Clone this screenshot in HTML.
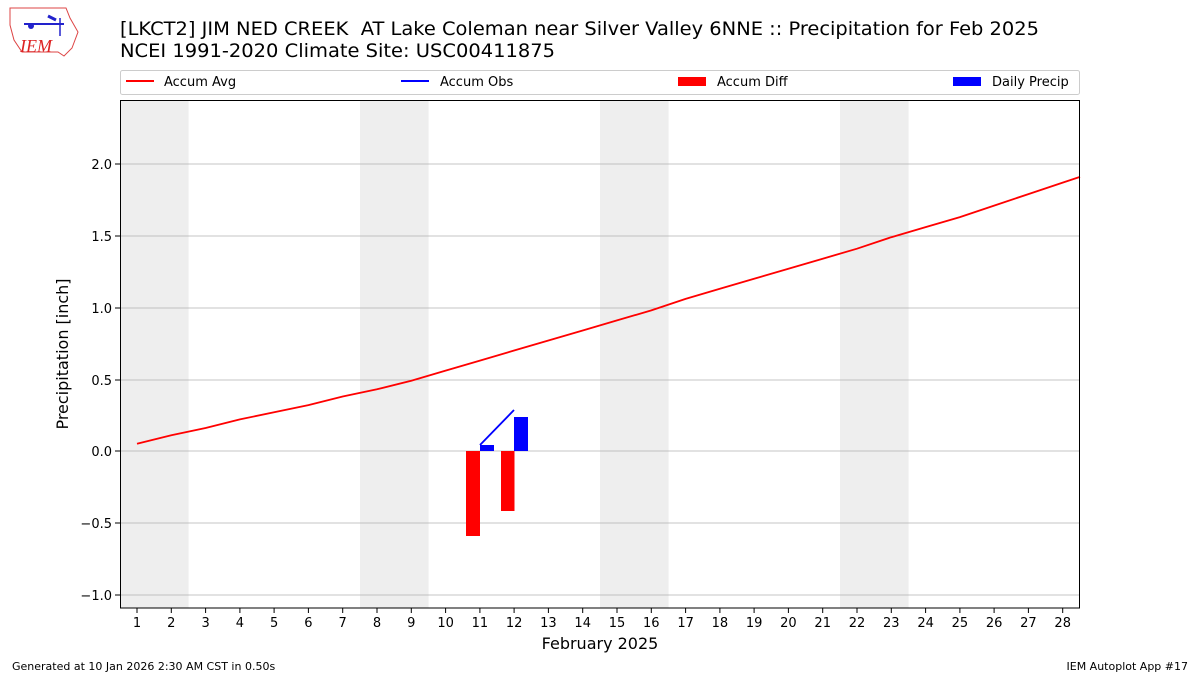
<!DOCTYPE html>
<html><head><meta charset="utf-8"><style>
body{margin:0;background:#fff;}
svg{display:block;font-family:"DejaVu Sans","Liberation Sans",sans-serif;}
</style></head><body>
<svg width="1200" height="675" viewBox="0 0 1200 675" xmlns="http://www.w3.org/2000/svg">
<rect width="1200" height="675" fill="#fff"/>
<!-- logo -->
<path d="M10,8 L66,8 L70,18 L78,32 L72,48 L64,56 L58,52 L22,52 L14,40 L10,25 Z" fill="none" stroke="#d44" stroke-width="1"/>
<line x1="24" y1="24" x2="64" y2="24" stroke="#22c" stroke-width="2"/>
<line x1="60" y1="18" x2="60" y2="36" stroke="#22c" stroke-width="1.5"/>
<circle cx="31" cy="26" r="3" fill="#22c"/>
<path d="M48,16 L56,20" stroke="#22c" stroke-width="3"/>
<text x="20" y="52" font-family="Liberation Serif,serif" font-style="italic" font-size="18" fill="#d22">IEM</text>
<!-- title -->
<text x="120" y="35" font-size="19" fill="#000" xml:space="preserve" textLength="919" lengthAdjust="spacingAndGlyphs">[LKCT2] JIM NED CREEK  AT Lake Coleman near Silver Valley 6NNE :: Precipitation for Feb 2025</text>
<text x="120" y="57" font-size="19" fill="#000" textLength="435" lengthAdjust="spacingAndGlyphs">NCEI 1991-2020 Climate Site: USC00411875</text>
<!-- legend -->
<rect x="120.5" y="70.5" width="959" height="24" fill="#fff" stroke="#ccc" rx="2"/>
<line x1="126" y1="81" x2="154" y2="81" stroke="red" stroke-width="2"/>
<text x="164" y="86" font-size="13">Accum Avg</text>
<line x1="401" y1="81" x2="429" y2="81" stroke="blue" stroke-width="2"/>
<text x="440" y="86" font-size="13">Accum Obs</text>
<rect x="678" y="77" width="28" height="9" fill="red"/>
<text x="717" y="86" font-size="13">Accum Diff</text>
<rect x="953" y="77" width="28" height="9" fill="blue"/>
<text x="992" y="86" font-size="13">Daily Precip</text>
<!-- shading -->
<g fill="#eee">
<rect x="120" y="100" width="68.6" height="508"/>
<rect x="360" y="100" width="68.6" height="508"/>
<rect x="600" y="100" width="68.6" height="508"/>
<rect x="840" y="100" width="68.6" height="508"/>
</g>
<!-- grid -->
<g stroke="#b0b0b0" stroke-width="0.8">
<line x1="120" x2="1080" y1="164" y2="164"/>
<line x1="120" x2="1080" y1="236" y2="236"/>
<line x1="120" x2="1080" y1="308" y2="308"/>
<line x1="120" x2="1080" y1="380" y2="380"/>
<line x1="120" x2="1080" y1="451" y2="451"/>
<line x1="120" x2="1080" y1="523" y2="523"/>
<line x1="120" x2="1080" y1="595" y2="595"/>
</g>
<!-- bars -->
<rect x="466" y="451" width="14" height="85" fill="red"/>
<rect x="501" y="451" width="13.5" height="60" fill="red"/>
<rect x="480" y="445" width="14" height="6" fill="blue"/>
<rect x="514" y="417" width="14" height="34" fill="blue"/>
<line x1="480" y1="445" x2="514" y2="410" stroke="blue" stroke-width="1.8"/>
<!-- avg line -->
<polyline fill="none" stroke="red" stroke-width="1.8" points="137,443.8 171.3,435.2 205.6,428 239.9,419.4 274.1,412.3 308.4,405.1 342.7,396.5 377,389.3 411.3,380.7 445.6,370.6 479.9,360.6 514.1,350.5 548.4,340.5 582.7,330.5 617,320.4 651.3,310.4 685.6,298.9 719.9,288.8 754.1,278.8 788.4,268.8 822.7,258.7 857,248.7 891.3,237.2 925.6,227.1 959.9,217.1 994.1,205.6 1028.4,194.1 1062.7,182.6 1080,176.9"/>
<!-- axes -->
<rect x="120.5" y="100.5" width="959" height="507.5" fill="none" stroke="#000" stroke-width="1"/>
<g stroke="#000" stroke-width="1">
<line x1="115" x2="120" y1="164" y2="164"/><line x1="115" x2="120" y1="236" y2="236"/>
<line x1="115" x2="120" y1="308" y2="308"/><line x1="115" x2="120" y1="380" y2="380"/>
<line x1="115" x2="120" y1="451" y2="451"/><line x1="115" x2="120" y1="523" y2="523"/>
<line x1="115" x2="120" y1="595" y2="595"/>
</g>
<g font-size="13" text-anchor="end">
<text x="112" y="169">2.0</text><text x="112" y="241">1.5</text><text x="112" y="313">1.0</text>
<text x="112" y="385">0.5</text><text x="112" y="456">0.0</text><text x="112" y="528">−0.5</text>
<text x="112" y="600">−1.0</text>
</g>
<g font-size="13" text-anchor="middle">
<text x="137" y="627">1</text><text x="171.3" y="627">2</text><text x="205.6" y="627">3</text><text x="239.9" y="627">4</text><text x="274.1" y="627">5</text><text x="308.4" y="627">6</text><text x="342.7" y="627">7</text><text x="377" y="627">8</text><text x="411.3" y="627">9</text><text x="445.6" y="627">10</text><text x="479.9" y="627">11</text><text x="514.1" y="627">12</text><text x="548.4" y="627">13</text><text x="582.7" y="627">14</text><text x="617" y="627">15</text><text x="651.3" y="627">16</text><text x="685.6" y="627">17</text><text x="719.9" y="627">18</text><text x="754.1" y="627">19</text><text x="788.4" y="627">20</text><text x="822.7" y="627">21</text><text x="857" y="627">22</text><text x="891.3" y="627">23</text><text x="925.6" y="627">24</text><text x="959.9" y="627">25</text><text x="994.1" y="627">26</text><text x="1028.4" y="627">27</text><text x="1062.7" y="627">28</text>
</g>
<g stroke="#000" stroke-width="1">
<path d="M137,608v5M171.3,608v5M205.6,608v5M239.9,608v5M274.1,608v5M308.4,608v5M342.7,608v5M377,608v5M411.3,608v5M445.6,608v5M479.9,608v5M514.1,608v5M548.4,608v5M582.7,608v5M617,608v5M651.3,608v5M685.6,608v5M719.9,608v5M754.1,608v5M788.4,608v5M822.7,608v5M857,608v5M891.3,608v5M925.6,608v5M959.9,608v5M994.1,608v5M1028.4,608v5M1062.7,608v5"/>
</g>
<text x="600" y="649" font-size="16" text-anchor="middle">February 2025</text>
<text transform="translate(68,354) rotate(-90)" font-size="16" text-anchor="middle">Precipitation [inch]</text>
<text x="12" y="670" font-size="11">Generated at 10 Jan 2026 2:30 AM CST in 0.50s</text>
<text x="1188" y="670" font-size="11" text-anchor="end">IEM Autoplot App #17</text>
</svg>
</body></html>
